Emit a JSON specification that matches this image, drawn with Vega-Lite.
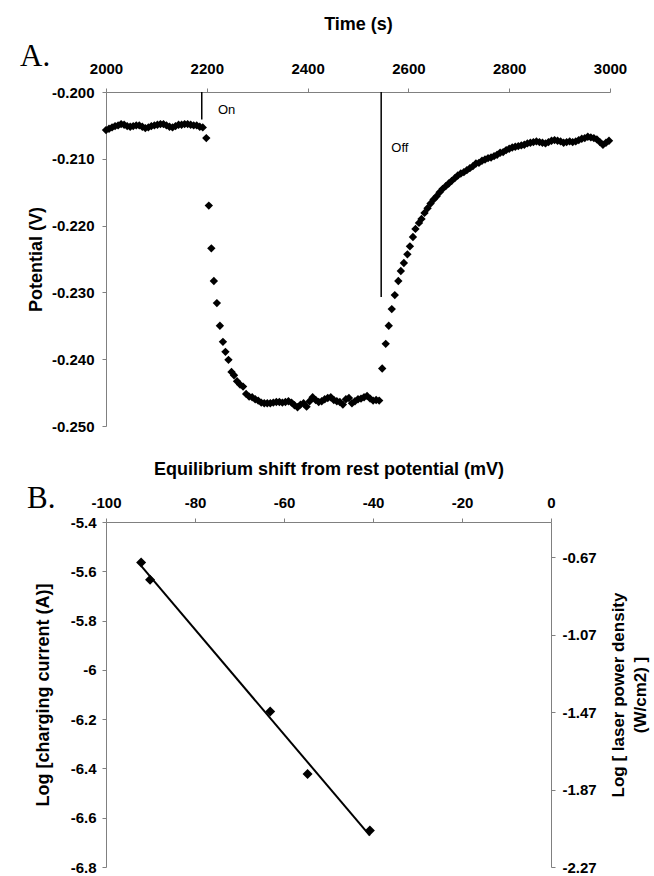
{
  "$schema": "https://vega.github.io/schema/vega-lite/v6.json",
  "padding": {"left": 20, "top": 15, "right": 2, "bottom": 2},
  "spacing": 26,
  "config": {
    "locale": {"number": {"decimal": ".", "thousands": ",", "grouping": [3], "currency": ["$", ""], "minus": "-"}},
    "view": {"stroke": null},
    "font": "Liberation Sans",
    "axis": {"grid": false, "labelFlush": false, "domainColor": "#808080", "tickColor": "#808080", "tickSize": 4, "labelFont": "Liberation Sans", "labelFontSize": 15, "labelFontWeight": "bold", "labelColor": "#000", "titleFont": "Liberation Sans", "titleFontSize": 18, "titleFontWeight": "bold", "titleColor": "#000"},
    "title": {"font": "Liberation Serif", "fontSize": 31, "fontWeight": "normal", "color": "#000"}
  },
  "vconcat": [
    {
      "width": 504,
      "height": 334,
      "title": {"text": "A.", "anchor": "start", "frame": "group", "orient": "top", "dx": -86, "dy": 62},
      "layer": [
        {
          "data": {"values": [
            {"t":2000,"v":-0.2057},{"t":2006,"v":-0.2055},{"t":2012,"v":-0.2053},{"t":2018,"v":-0.2051},{"t":2024,"v":-0.2050},{"t":2030,"v":-0.2048},{"t":2036,"v":-0.2049},{"t":2042,"v":-0.2051},{"t":2048,"v":-0.2052},{"t":2054,"v":-0.2051},{"t":2060,"v":-0.2050},{"t":2066,"v":-0.2050},{"t":2072,"v":-0.2052},{"t":2078,"v":-0.2054},{"t":2084,"v":-0.2053},{"t":2090,"v":-0.2051},{"t":2096,"v":-0.2050},{"t":2102,"v":-0.2049},{"t":2108,"v":-0.2048},{"t":2114,"v":-0.2048},{"t":2120,"v":-0.2050},{"t":2126,"v":-0.2052},{"t":2132,"v":-0.2053},{"t":2138,"v":-0.2051},{"t":2144,"v":-0.2049},{"t":2150,"v":-0.2049},{"t":2156,"v":-0.2048},{"t":2162,"v":-0.2048},{"t":2168,"v":-0.2049},{"t":2174,"v":-0.2050},{"t":2180,"v":-0.2050},{"t":2186,"v":-0.2052},{"t":2192,"v":-0.2053},
            {"t":2199,"v":-0.2069},{"t":2204,"v":-0.2170},{"t":2209,"v":-0.2234},{"t":2214,"v":-0.2283},{"t":2220,"v":-0.2316},{"t":2226,"v":-0.2350},{"t":2232,"v":-0.2374},{"t":2237,"v":-0.2389},{"t":2243,"v":-0.2401},{"t":2249,"v":-0.2419},{"t":2254,"v":-0.2424},{"t":2260,"v":-0.2433},{"t":2266,"v":-0.2438},{"t":2272,"v":-0.2441},{"t":2278,"v":-0.2452},{"t":2284,"v":-0.2456},{"t":2290,"v":-0.2457},{"t":2296,"v":-0.2460},{"t":2302,"v":-0.2462},{"t":2308,"v":-0.2465},
            {"t":2314,"v":-0.2466},{"t":2320,"v":-0.2466},{"t":2326,"v":-0.2466},{"t":2332,"v":-0.2465},{"t":2338,"v":-0.2464},{"t":2344,"v":-0.2464},{"t":2350,"v":-0.2465},{"t":2356,"v":-0.2464},{"t":2362,"v":-0.2463},{"t":2368,"v":-0.2465},{"t":2374,"v":-0.2469},{"t":2380,"v":-0.2472},{"t":2386,"v":-0.2468},{"t":2392,"v":-0.2466},{"t":2398,"v":-0.2471},{"t":2404,"v":-0.2463},{"t":2410,"v":-0.2457},{"t":2416,"v":-0.2461},{"t":2422,"v":-0.2464},{"t":2428,"v":-0.2463},{"t":2434,"v":-0.2460},{"t":2440,"v":-0.2458},{"t":2446,"v":-0.2457},{"t":2452,"v":-0.2461},{"t":2458,"v":-0.2463},{"t":2464,"v":-0.2464},{"t":2470,"v":-0.2468},{"t":2476,"v":-0.2460},{"t":2482,"v":-0.2458},{"t":2488,"v":-0.2466},{"t":2494,"v":-0.2463},{"t":2500,"v":-0.2460},{"t":2506,"v":-0.2459},{"t":2512,"v":-0.2457},{"t":2518,"v":-0.2455},{"t":2524,"v":-0.2459},{"t":2530,"v":-0.2462},{"t":2536,"v":-0.2461},{"t":2542,"v":-0.2462},
            {"t":2548,"v":-0.2414},{"t":2555,"v":-0.2377},{"t":2561,"v":-0.2350},{"t":2567,"v":-0.2325},{"t":2573,"v":-0.2304},{"t":2580,"v":-0.2283},{"t":2585,"v":-0.2268},{"t":2591,"v":-0.2256},{"t":2598,"v":-0.2243},{"t":2603,"v":-0.2231},{"t":2609,"v":-0.2217},{"t":2614,"v":-0.2205},{"t":2621,"v":-0.2196},{"t":2626,"v":-0.2190},{"t":2632,"v":-0.2181},{"t":2638,"v":-0.2174},{"t":2644,"v":-0.2167},{"t":2650,"v":-0.2161},{"t":2656,"v":-0.2156},{"t":2662,"v":-0.2150},{"t":2668,"v":-0.2145},{"t":2674,"v":-0.2141},{"t":2680,"v":-0.2137},{"t":2686,"v":-0.2133},{"t":2692,"v":-0.2129},{"t":2698,"v":-0.2125},{"t":2704,"v":-0.2122},{"t":2710,"v":-0.2120},{"t":2716,"v":-0.2117},{"t":2722,"v":-0.2114},{"t":2728,"v":-0.2111},{"t":2734,"v":-0.2107},{"t":2740,"v":-0.2106},{"t":2746,"v":-0.2103},{"t":2752,"v":-0.2101},{"t":2758,"v":-0.2099},{"t":2764,"v":-0.2098},{"t":2770,"v":-0.2096},{"t":2776,"v":-0.2094},{"t":2782,"v":-0.2091},{"t":2788,"v":-0.2090},{"t":2794,"v":-0.2087},{"t":2800,"v":-0.2085},{"t":2806,"v":-0.2083},{"t":2812,"v":-0.2082},{"t":2818,"v":-0.2081},{"t":2824,"v":-0.2080},{"t":2830,"v":-0.2079},{"t":2836,"v":-0.2077},{"t":2842,"v":-0.2076},{"t":2848,"v":-0.2075},{"t":2854,"v":-0.2074},{"t":2860,"v":-0.2075},{"t":2866,"v":-0.2076},{"t":2872,"v":-0.2077},{"t":2878,"v":-0.2075},{"t":2884,"v":-0.2073},{"t":2890,"v":-0.2072},{"t":2896,"v":-0.2073},{"t":2902,"v":-0.2074},{"t":2908,"v":-0.2076},{"t":2914,"v":-0.2075},{"t":2920,"v":-0.2074},{"t":2926,"v":-0.2075},{"t":2932,"v":-0.2074},{"t":2938,"v":-0.2072},{"t":2944,"v":-0.2070},{"t":2950,"v":-0.2069},{"t":2956,"v":-0.2067},{"t":2962,"v":-0.2068},{"t":2968,"v":-0.2069},{"t":2974,"v":-0.2071},{"t":2980,"v":-0.2075},{"t":2986,"v":-0.2079},{"t":2992,"v":-0.2076},{"t":2998,"v":-0.2073}
          ]},
          "mark": {"type": "point", "shape": "diamond", "filled": true, "color": "#000", "opacity": 1, "size": 70},
          "encoding": {
            "x": {"field": "t", "type": "quantitative", "scale": {"domain": [2000, 3000], "nice": false}, "axis": {"orient": "top", "title": "Time (s)", "values": [2000, 2200, 2400, 2600, 2800, 3000], "format": "d", "labelPadding": 12, "titlePadding": 28}},
            "y": {"field": "v", "type": "quantitative", "scale": {"domain": [-0.25, -0.2], "nice": false, "zero": false}, "axis": {"title": "Potential (V)", "values": [-0.2, -0.21, -0.22, -0.23, -0.24, -0.25], "format": ".3f", "labelPadding": 8, "titlePadding": 6}}
          }
        },
        {
          "data": {"values": [{"t": 2190, "v1": -0.2, "v2": -0.2041}, {"t": 2546, "v1": -0.2, "v2": -0.2307}]},
          "mark": {"type": "rule", "color": "#000", "strokeWidth": 1.5},
          "encoding": {
            "x": {"field": "t", "type": "quantitative"},
            "y": {"field": "v1", "type": "quantitative"},
            "y2": {"field": "v2"}
          }
        },
        {
          "data": {"values": [{"t": 2222, "v": -0.2027, "label": "On"}, {"t": 2566, "v": -0.2084, "label": "Off"}]},
          "mark": {"type": "text", "align": "left", "baseline": "middle", "font": "Liberation Sans", "fontSize": 13, "color": "#000"},
          "encoding": {
            "x": {"field": "t", "type": "quantitative"},
            "y": {"field": "v", "type": "quantitative"},
            "text": {"field": "label"}
          }
        }
      ]
    },
    {
      "width": 445,
      "height": 345,
      "title": {"text": "B.", "anchor": "start", "frame": "group", "orient": "top", "dx": -79, "dy": 59},
      "resolve": {"scale": {"y": "independent"}},
      "layer": [
        {
          "data": {"values": [{"mv": -92.1, "lc": -5.564}, {"mv": -90.1, "lc": -5.634}, {"mv": -63.1, "lc": -6.169}, {"mv": -54.7, "lc": -6.423}, {"mv": -40.7, "lc": -6.652}]},
          "mark": {"type": "point", "shape": "diamond", "filled": true, "color": "#000", "opacity": 1, "size": 100},
          "encoding": {
            "x": {"field": "mv", "type": "quantitative", "scale": {"domain": [-100, 0], "nice": false}, "axis": {"orient": "top", "title": "Equilibrium shift from rest potential (mV)", "values": [-100, -80, -60, -40, -20, 0], "format": "d", "labelPadding": 8, "titlePadding": 17}},
            "y": {"field": "lc", "type": "quantitative", "scale": {"domain": [-6.8, -5.4], "nice": false, "zero": false}, "axis": {"title": "Log [charging current (A)]", "values": [-5.4, -5.6, -5.8, -6, -6.2, -6.4, -6.6, -6.8], "format": "~g", "labelPadding": 6, "titlePadding": 18}}
          }
        },
        {
          "data": {"values": [{"mv": -92.1, "lc": -5.564}, {"mv": -90.1, "lc": -5.634}, {"mv": -63.1, "lc": -6.169}, {"mv": -54.7, "lc": -6.423}, {"mv": -40.7, "lc": -6.652}]},
          "transform": [{"regression": "lc", "on": "mv"}],
          "mark": {"type": "line", "color": "#000", "strokeWidth": 2},
          "encoding": {
            "x": {"field": "mv", "type": "quantitative"},
            "y": {"field": "lc", "type": "quantitative", "scale": {"domain": [-6.8, -5.4], "nice": false, "zero": false}, "axis": null}
          }
        },
        {
          "data": {"values": [{"r": -2.27}, {"r": -0.489}]},
          "mark": {"type": "rule", "opacity": 0},
          "encoding": {
            "y": {"field": "r", "type": "quantitative", "scale": {"domain": [-2.27, -0.489], "nice": false, "zero": false}, "axis": {"orient": "right", "title": ["Log [ laser power density", "(W/cm2) ]"], "titleAngle": 270, "titleFontSize": 17, "titleLineHeight": 22, "values": [-0.67, -1.07, -1.47, -1.87, -2.27], "format": ".2f", "labelPadding": 7, "titlePadding": 9}}
          }
        }
      ]
    }
  ]
}
